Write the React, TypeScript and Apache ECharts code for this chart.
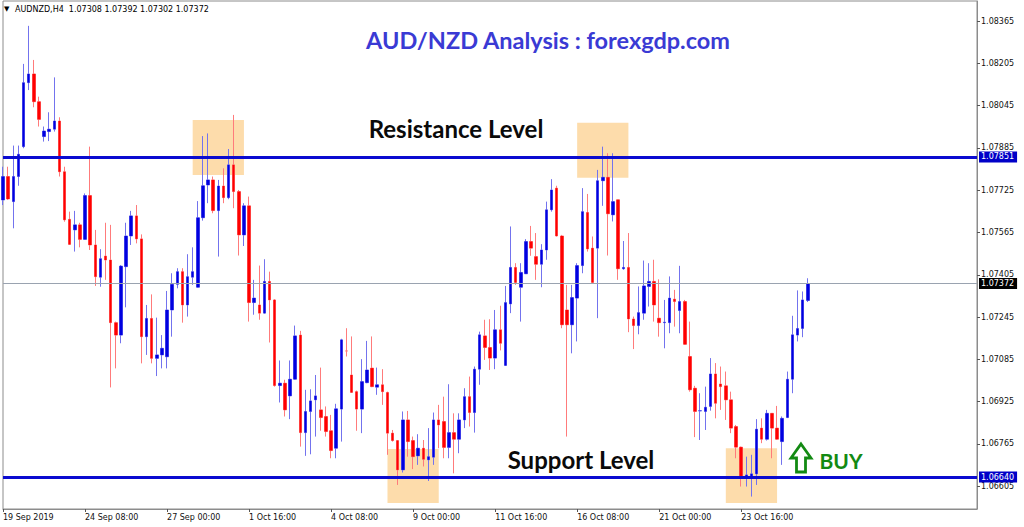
import React, { useEffect, useRef } from "react";
import * as echarts from "echarts";

// ---- Data (AUDNZD, H4) ----
const symbolName = "AUDNZD,H4";
const barStartUtc = Date.UTC(2019, 8, 19, 16, 0);
const emptySlots = 33;

const open = [
  1.07688, 1.07777, 1.07682, 1.07777, 1.0789, 1.08132, 1.08165, 1.0806, 1.07928, 1.07947,
  1.07956, 1.07987, 1.07795, 1.07615, 1.07575, 1.07594, 1.07539, 1.07705, 1.07518, 1.07396,
  1.07476, 1.07461, 1.07224, 1.07177, 1.07436, 1.07552, 1.07628, 1.07541, 1.07171, 1.0724,
  1.07089, 1.07102, 1.07095, 1.07272, 1.07369, 1.07417, 1.07291, 1.07396, 1.07358, 1.07621,
  1.07745, 1.07764, 1.07648, 1.07741, 1.07697, 1.07821, 1.0772, 1.07556, 1.07666, 1.073,
  1.07291, 1.0726, 1.0738, 1.0731, 1.06986, 1.06995, 1.06947, 1.0701, 1.07177, 1.06808,
  1.06888, 1.06932, 1.06894, 1.06869, 1.06815, 1.06749, 1.06897, 1.07117, 1.07026, 1.06963,
  1.06897, 1.06997, 1.07052, 1.0698, 1.06989, 1.0696, 1.06806, 1.06778, 1.06667, 1.06856,
  1.06778, 1.0672, 1.06749, 1.06705, 1.06715, 1.06856, 1.0685, 1.06752, 1.06808, 1.06783,
  1.06856, 1.06944, 1.06884, 1.07048, 1.07174, 1.0713, 1.0709, 1.07197, 1.07062, 1.07295,
  1.07433, 1.07358, 1.07409, 1.07531, 1.07474, 1.07445, 1.07499, 1.07651, 1.07733, 1.07552,
  1.07272, 1.07216, 1.07317, 1.0744, 1.07641, 1.07506, 1.07506, 1.07761, 1.07774, 1.07632,
  1.07689, 1.07428, 1.07433, 1.07238, 1.07213, 1.0726, 1.07361, 1.0738, 1.07241, 1.07224,
  1.07224, 1.07313, 1.0727, 1.07304, 1.07096, 1.06976, 1.0689, 1.06888, 1.06907, 1.0703,
  1.06992, 1.06985, 1.06932, 1.06831, 1.06753, 1.06635, 1.06642, 1.06652, 1.06825, 1.06783,
  1.06881, 1.06825, 1.06774, 1.06865, 1.0701, 1.07177, 1.07202, 1.07308,
];

const close = [
  1.07777, 1.07692, 1.07777, 1.07861, 1.08132, 1.08165, 1.0806, 1.07993, 1.07949, 1.07956,
  1.07987, 1.07795, 1.07613, 1.0752, 1.07594, 1.07539, 1.07705, 1.07518, 1.07398, 1.07466,
  1.07461, 1.07224, 1.07177, 1.07438, 1.07552, 1.07628, 1.07541, 1.07171, 1.0724, 1.07089,
  1.07102, 1.07127, 1.07272, 1.07369, 1.07417, 1.07291, 1.07398, 1.07417, 1.07621, 1.07742,
  1.07764, 1.07648, 1.07741, 1.07697, 1.07821, 1.0772, 1.07556, 1.07666, 1.073, 1.07317,
  1.0726, 1.0738, 1.0731, 1.06986, 1.06995, 1.06894, 1.0701, 1.07174, 1.06808, 1.06888,
  1.06928, 1.06947, 1.06865, 1.06812, 1.0674, 1.06898, 1.07159, 1.07117, 1.0696, 1.06897,
  1.07001, 1.07045, 1.06982, 1.06989, 1.06963, 1.06806, 1.06778, 1.06667, 1.06856, 1.06774,
  1.06717, 1.06749, 1.06707, 1.06717, 1.06856, 1.06837, 1.06752, 1.06808, 1.06783, 1.06856,
  1.06944, 1.06884, 1.07048, 1.07178, 1.0713, 1.0709, 1.07197, 1.07146, 1.073, 1.07433,
  1.07376, 1.07414, 1.07531, 1.07506, 1.07445, 1.07499, 1.07651, 1.07726, 1.07552, 1.07216,
  1.07216, 1.07319, 1.0744, 1.07644, 1.07503, 1.07376, 1.07761, 1.07774, 1.07636, 1.07682,
  1.07428, 1.07433, 1.07238, 1.07213, 1.07262, 1.07363, 1.0738, 1.07291, 1.07224, 1.07226,
  1.07317, 1.07304, 1.07304, 1.07142, 1.0697, 1.06888, 1.06891, 1.06904, 1.0703, 1.06919,
  1.06982, 1.06932, 1.06825, 1.06753, 1.06644, 1.06648, 1.06652, 1.06821, 1.06783, 1.06881,
  1.06825, 1.06783, 1.06862, 1.0701, 1.07178, 1.07202, 1.0731, 1.07372,
];

const low = [
  1.07669, 1.07688, 1.07581, 1.07742, 1.07884, 1.08104, 1.08039, 1.07966, 1.07909, 1.07911,
  1.07947, 1.07777, 1.07606, 1.07518, 1.07493, 1.07509, 1.07537, 1.07499, 1.07363, 1.0736,
  1.07386, 1.06979, 1.07051, 1.07146, 1.07282, 1.07518, 1.07524, 1.0707, 1.07102, 1.0707,
  1.07022, 1.07051, 1.07051, 1.07171, 1.07354, 1.07224, 1.07247, 1.07367, 1.07356, 1.0761,
  1.07676, 1.07638, 1.07474, 1.07676, 1.07691, 1.07657, 1.07478, 1.07514, 1.07228, 1.07254,
  1.07235, 1.07258, 1.07149, 1.06982, 1.06922, 1.06869, 1.06859, 1.07008, 1.06755, 1.0672,
  1.06726, 1.06793, 1.06815, 1.06793, 1.06711, 1.06711, 1.06774, 1.07096, 1.0696, 1.06815,
  1.06806, 1.06995, 1.0698, 1.06951, 1.06913, 1.06724, 1.06774, 1.0661, 1.06657, 1.06717,
  1.0667, 1.06686, 1.0668, 1.06625, 1.06686, 1.06749, 1.06711, 1.06711, 1.06654, 1.0673,
  1.06825, 1.06831, 1.06808, 1.06989, 1.07083, 1.07045, 1.07048, 1.07119, 1.07062, 1.0726,
  1.07367, 1.07228, 1.07409, 1.07477, 1.07386, 1.07358, 1.07462, 1.07644, 1.0755, 1.07203,
  1.06793, 1.07108, 1.07153, 1.07411, 1.07493, 1.07376, 1.07241, 1.07666, 1.07478, 1.07607,
  1.07386, 1.07424, 1.07188, 1.07124, 1.0718, 1.07235, 1.07285, 1.07228, 1.07171, 1.07127,
  1.07184, 1.07209, 1.07184, 1.0714, 1.06963, 1.06791, 1.0678, 1.06818, 1.06891, 1.06862,
  1.06894, 1.06856, 1.06806, 1.06711, 1.06604, 1.06604, 1.06566, 1.0661, 1.06768, 1.06778,
  1.06711, 1.0678, 1.06686, 1.06863, 1.06957, 1.07153, 1.07169, 1.07302,
];

const high = [
  1.07814, 1.07814, 1.07894, 1.07894, 1.08203, 1.08347, 1.08218, 1.08079, 1.07966, 1.0802,
  1.08152, 1.08001, 1.07814, 1.07644, 1.07647, 1.07602, 1.07713, 1.0789, 1.07575, 1.07502,
  1.07602, 1.07594, 1.07228, 1.07442, 1.07602, 1.07647, 1.07669, 1.07558, 1.07291, 1.07331,
  1.07243, 1.07177, 1.07344, 1.07411, 1.0743, 1.0743, 1.07483, 1.07509, 1.07684, 1.0793,
  1.0794, 1.07777, 1.07764, 1.07808, 1.07881, 1.0801, 1.07726, 1.07676, 1.07701, 1.07386,
  1.0744, 1.07464, 1.07417, 1.07313, 1.07081, 1.07008, 1.07081, 1.07213, 1.07193, 1.0697,
  1.06972, 1.07026, 1.07054, 1.06907, 1.06875, 1.06917, 1.07163, 1.07203, 1.07172, 1.06967,
  1.07086, 1.07155, 1.07172, 1.07054, 1.07048, 1.06963, 1.06818, 1.0678, 1.06888, 1.0689,
  1.06793, 1.06802, 1.0678, 1.06825, 1.06884, 1.06913, 1.06944, 1.06991, 1.06881, 1.06881,
  1.06976, 1.0702, 1.07058, 1.0719, 1.07235, 1.07237, 1.07272, 1.07288, 1.07363, 1.07588,
  1.07449, 1.07449, 1.0754, 1.0759, 1.07563, 1.07521, 1.07682, 1.07767, 1.07742, 1.07556,
  1.07367, 1.07367, 1.07449, 1.07733, 1.07711, 1.0755, 1.07802, 1.0789, 1.07865, 1.07865,
  1.07689, 1.07533, 1.07563, 1.07247, 1.07361, 1.07459, 1.07449, 1.07462, 1.07388, 1.0731,
  1.07399, 1.07348, 1.07439, 1.0731, 1.07228, 1.06985, 1.06957, 1.06982, 1.0709, 1.07071,
  1.07058, 1.07039, 1.06963, 1.06837, 1.06755, 1.06717, 1.06724, 1.06859, 1.06862, 1.06894,
  1.06881, 1.06909, 1.06869, 1.07039, 1.0725, 1.07346, 1.07342, 1.07392,
];

const resistanceLevel = 1.07851;
const supportLevel = 1.0664;

const yTicks = [
  1.06605, 1.06765, 1.06925, 1.07085, 1.07245, 1.07405, 1.07565, 1.07725, 1.07885, 1.08045,
  1.08205, 1.08365,
];

const xTicks: [string, string][] = [
  ["2019.09.19 16:00", "19 Sep 2019"],
  ["2019.09.24 08:00", "24 Sep 08:00"],
  ["2019.09.27 00:00", "27 Sep 00:00"],
  ["2019.10.01 16:00", "1 Oct 16:00"],
  ["2019.10.04 08:00", "4 Oct 08:00"],
  ["2019.10.09 00:00", "9 Oct 00:00"],
  ["2019.10.11 16:00", "11 Oct 16:00"],
  ["2019.10.16 08:00", "16 Oct 08:00"],
  ["2019.10.21 00:00", "21 Oct 00:00"],
  ["2019.10.23 16:00", "23 Oct 16:00"],
];

const zones = [
  { from: "2019.09.27 20:00", to: "2019.10.01 12:00", top: 1.07991, bottom: 1.07783 },
  { from: "2019.10.16 08:00", to: "2019.10.18 00:00", top: 1.0798, bottom: 1.07772 },
  { from: "2019.10.08 04:00", to: "2019.10.09 20:00", top: 1.06746, bottom: 1.06542 },
  { from: "2019.10.23 04:00", to: "2019.10.24 20:00", top: 1.06749, bottom: 1.06542 },
];

// ---- helpers ----
const pad = (n: number) => (n < 10 ? "0" + n : "" + n);
function buildTimes(start: number, count: number): string[] {
  const out: string[] = [];
  let t = start;
  while (out.length < count) {
    const d = new Date(t);
    const wd = d.getUTCDay();
    if (wd !== 0 && wd !== 6) {
      out.push(
        `${d.getUTCFullYear()}.${pad(d.getUTCMonth() + 1)}.${pad(d.getUTCDate())} ${pad(
          d.getUTCHours()
        )}:${pad(d.getUTCMinutes())}`
      );
    }
    t += 4 * 3600 * 1000;
  }
  return out;
}

const FONT = '"DejaVu Sans", Tahoma, sans-serif';

export default function App() {
  const ref = useRef<HTMLDivElement>(null);

  useEffect(() => {
    if (!ref.current) return;
    const chart = echarts.init(ref.current, undefined, { renderer: "svg" });

    const categories = buildTimes(barStartUtc, open.length + emptySlots);
    const tickMap = new Map<string, string>(xTicks);
    const showTick = (_i: number, v: string) => tickMap.has(v);

    const full = open.map((o, i) => [o, close[i], low[i], high[i]]);
    const bodies = open.map((o, i) => [o, close[i], Math.min(o, close[i]), Math.max(o, close[i])]);
    const last = open.length - 1;
    const lastClose = close[last];

    const lineLabel = (bg: string) => ({
      show: true,
      position: "end",
      distance: 2,
      formatter: (p: any) => Number(p.value).toFixed(5),
      color: "#ffffff",
      backgroundColor: bg,
      padding: [2, 3, 1, 2],
      fontSize: 8,
      fontFamily: FONT,
    });

    const option: any = {
      animation: false,
      backgroundColor: "#ffffff",
      grid: {
        left: 1,
        right: 47,
        top: 1,
        bottom: 18,
        show: true,
        borderColor: "#8c8c8c",
        borderWidth: 1,
        backgroundColor: "#ffffff",
      },
      xAxis: {
        type: "category",
        data: categories,
        boundaryGap: false,
        axisLine: { show: true, lineStyle: { color: "#8c8c8c" } },
        axisTick: { show: true, interval: showTick, length: 3, lineStyle: { color: "#555" } },
        axisLabel: {
          show: true,
          interval: showTick,
          formatter: (v: string) => tickMap.get(v) || "",
          align: "left",
          margin: 4,
          fontSize: 8,
          fontFamily: FONT,
          color: "#111",
        },
        splitLine: { show: false },
      },
      yAxis: {
        type: "value",
        position: "right",
        min: 1.06519,
        max: 1.08441,
        scale: true,
        axisLine: { show: true, lineStyle: { color: "#8c8c8c" } },
        axisTick: { show: true, customValues: yTicks, length: 3, lineStyle: { color: "#555" } },
        axisLabel: {
          show: true,
          customValues: yTicks,
          formatter: (v: number) => v.toFixed(5),
          margin: 4,
          fontSize: 8,
          fontFamily: FONT,
          color: "#111",
        },
        splitLine: { show: false },
      },
      series: [
        {
          name: "zones",
          type: "line",
          data: [],
          z: 1,
          silent: true,
          markArea: {
            silent: true,
            itemStyle: { color: "#fddcab", opacity: 1 },
            data: zones.map((z) => [
              { xAxis: z.from, yAxis: z.top },
              { xAxis: z.to, yAxis: z.bottom },
            ]),
          },
        },
        {
          name: "wicks",
          type: "candlestick",
          data: full,
          z: 2,
          barWidth: 3,
          itemStyle: {
            color: "#7373ee",
            color0: "#ff7b7b",
            borderColor: "#7373ee",
            borderColor0: "#ff7b7b",
            borderWidth: 1,
          },
        },
        {
          name: "bodies",
          type: "candlestick",
          data: bodies,
          z: 3,
          barWidth: 3,
          itemStyle: {
            color: "#0000e0",
            color0: "#ff0000",
            borderColor: "#0000e0",
            borderColor0: "#ff0000",
            borderWidth: 0,
          },
        },
        {
          name: "levels",
          type: "line",
          data: [],
          z: 4,
          silent: true,
          markLine: {
            silent: true,
            symbol: ["none", "none"],
            precision: 5,
            data: [
              {
                yAxis: lastClose,
                lineStyle: { color: "#9aa3b0", width: 1, type: "solid" },
                label: lineLabel("#000000"),
              },
              {
                yAxis: resistanceLevel,
                lineStyle: { color: "#0b0bd0", width: 3, type: "solid" },
                label: lineLabel("#0000c8"),
              },
              {
                yAxis: supportLevel,
                lineStyle: { color: "#0b0bd0", width: 3, type: "solid" },
                label: lineLabel("#0000c8"),
              },
            ],
          },
        },
      ],
      graphic: [
        {
          type: "text",
          x: 4,
          y: 9,
          style: { text: "▼", font: `7px ${FONT}`, fill: "#000", verticalAlign: "middle" },
        },
        {
          type: "text",
          x: 15,
          y: 9,
          style: {
            text: `${symbolName}  ${open[last].toFixed(5)} ${high[last].toFixed(5)} ${low[last].toFixed(5)} ${close[last].toFixed(5)}`,
            font: `8px ${FONT}`,
            fill: "#000",
            verticalAlign: "middle",
          },
        },
        {
          type: "text",
          x: 548,
          y: 40,
          style: {
            text: "AUD/NZD Analysis : forexgdp.com",
            font: "bold 23.5px Lato, sans-serif",
            fill: "#3a3ad4",
            align: "center",
            verticalAlign: "middle",
          },
        },
        {
          type: "text",
          x: 456,
          y: 128,
          style: {
            text: "Resistance Level",
            font: "bold 24px Lato, sans-serif",
            fill: "#0a0a0a",
            align: "center",
            verticalAlign: "middle",
          },
        },
        {
          type: "text",
          x: 581,
          y: 459,
          style: {
            text: "Support Level",
            font: "bold 24px Lato, sans-serif",
            fill: "#0a0a0a",
            align: "center",
            verticalAlign: "middle",
          },
        },
        {
          type: "text",
          x: 841,
          y: 460,
          style: {
            text: "BUY",
            font: "bold 21px Lato, sans-serif",
            fill: "#138a13",
            align: "center",
            verticalAlign: "middle",
          },
        },
        {
          type: "polygon",
          shape: {
            points: [
              [801, 444],
              [811, 458],
              [805.5, 458],
              [805.5, 472],
              [796.5, 472],
              [796.5, 458],
              [791, 458],
            ],
          },
          style: { fill: "none", stroke: "#138a13", lineWidth: 2.8, lineJoin: "miter" },
        },
      ],
    };

    chart.setOption(option);
    return () => chart.dispose();
  }, []);

  return (
    <div
      ref={ref}
      style={{ position: "fixed", left: 0, top: 0, width: 1024, height: 527, background: "#fff" }}
    />
  );
}
